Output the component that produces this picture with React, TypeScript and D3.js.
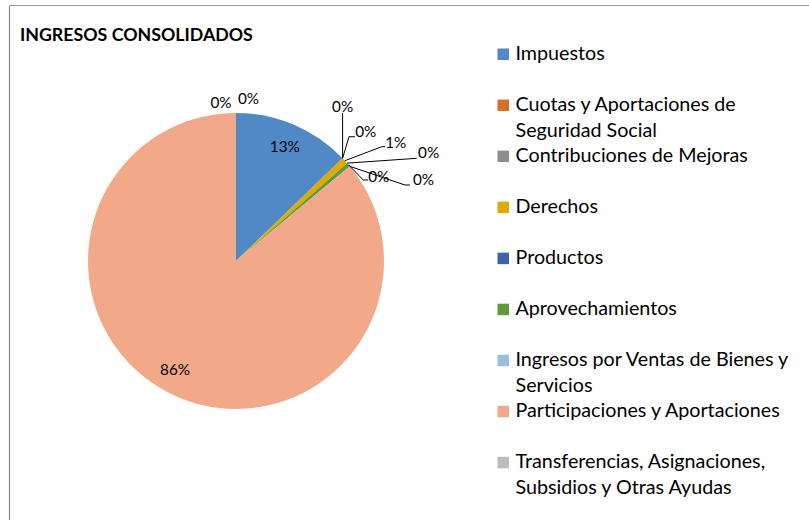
import React, { useMemo } from "react";
import * as d3 from "d3";

// ---------- data ----------
const chartTitle = "INGRESOS CONSOLIDADOS";

const categories = [
  "Impuestos",
  "Cuotas y Aportaciones de Seguridad Social",
  "Contribuciones de Mejoras",
  "Derechos",
  "Productos",
  "Aprovechamientos",
  "Ingresos por Ventas de Bienes y Servicios",
  "Participaciones y Aportaciones",
  "Transferencias, Asignaciones, Subsidios y Otras Ayudas",
  "Ingresos Derivados de Financiamientos",
];

// legend text as wrapped in the picture (the 10th entry does not fit in the chart area)
const legendLines = [
  ["Impuestos"],
  ["Cuotas y Aportaciones de", "Seguridad Social"],
  ["Contribuciones de Mejoras"],
  ["Derechos"],
  ["Productos"],
  ["Aprovechamientos"],
  ["Ingresos por Ventas de Bienes y", "Servicios"],
  ["Participaciones y Aportaciones"],
  ["Transferencias, Asignaciones,", "Subsidios y Otras Ayudas"],
];

// share of total income, percent
const shares = [12.8, 0, 0, 0.7, 0, 0.45, 0, 86.05, 0, 0];

const colors = [
  "#5089C6",
  "#D4702C",
  "#8E8E8E",
  "#E2A900",
  "#3D63AD",
  "#5F9B3C",
  "#9BBDE2",
  "#F1A98A",
  "#BDBDBD",
  "#F7D06A",
];

// ---------- layout ----------
const W = 809;
const H = 520;
const CX = 236;
const CY = 261;
const R = 148;
const FONT = "Lato, 'Open Sans', 'DejaVu Sans', sans-serif";

// label placement: "in" = inside at radius factor, "out" = leader line from slice edge
type LabelSpec =
  | { kind: "in"; rho: number; dx: number; dy: number }
  | {
      kind: "out";
      path: [number, number][]; // leader points relative to edge anchor (after the anchor)
      tx: number;
      ty: number;
      anchor: "start" | "middle";
    };

const labelSpecs: LabelSpec[] = [
  { kind: "in", rho: 0.843, dx: 0, dy: 0 },
  { kind: "out", path: [[0, -45.3]], tx: 0, ty: -46.6, anchor: "middle" },
  { kind: "out", path: [[6.4, -21.6], [12.4, -21.6]], tx: 12.6, ty: -21.2, anchor: "start" },
  { kind: "out", path: [[36.9, -14], [40.2, -14]], tx: 40.4, ty: -13, anchor: "start" },
  { kind: "out", path: [[69.7, -4.8]], tx: 71, ty: -5.1, anchor: "start" },
  { kind: "out", path: [[14.9, 15.3], [19.9, 15.3]], tx: 19.8, ty: 17, anchor: "start" },
  { kind: "out", path: [[55.2, 18.7], [60.2, 18.7]], tx: 63.2, ty: 18.7, anchor: "start" },
  { kind: "in", rho: 0.843, dx: -8, dy: -5 },
  { kind: "out", path: [], tx: -15, ty: -5, anchor: "middle" },
  { kind: "out", path: [], tx: 12.5, ty: -9, anchor: "middle" },
];

function measure(text: string, font: string): number {
  const ctx = document.createElement("canvas").getContext("2d");
  if (!ctx) return 100;
  ctx.font = font;
  return ctx.measureText(text).width;
}

export default function App() {
  const sizes = useMemo(() => {
    const legend = (100 * 266) / measure("Participaciones y Aportaciones", `100px ${FONT}`);
    const title = (100 * 233) / measure(chartTitle, `bold 100px ${FONT}`);
    const label = (100 * 30) / measure("13%", `100px ${FONT}`);
    return { legend, title, label };
  }, []);

  const arcs = d3
    .pie<number>()
    .sort(null)
    .value((d) => d)
    .startAngle(0)
    .endAngle(2 * Math.PI)(shares);

  const arcGen = d3.arc<d3.PieArcDatum<number>>().innerRadius(0).outerRadius(R);
  const fmt = d3.format(".0%");

  const legendY = d3
    .scaleLinear()
    .domain([0, 8])
    .range([60, 468.3]);

  return (
    <svg
      width={W}
      height={H}
      style={{ position: "absolute", left: 0, top: 0, background: "#fff" }}
      fontFamily={FONT}
    >
      <rect x={0} y={0} width={W} height={H} fill="#fff" />
      {/* chart area border (extends past the picture) */}
      <line x1={9.5} y1={5.5} x2={W} y2={5.5} stroke="#9a9a9a" strokeWidth={1.2} />
      <line x1={9.5} y1={5.5} x2={9.5} y2={H} stroke="#8a8a8a" strokeWidth={1.2} />

      <text x={20} y={41} fontWeight="bold" fontSize={sizes.title} fill="#000">
        {chartTitle}
      </text>

      <g transform={`translate(${CX},${CY})`}>
        {arcs.map((a, i) =>
          a.endAngle - a.startAngle > 0 ? (
            <path key={i} d={arcGen(a) || ""} fill={colors[i]} />
          ) : null
        )}
      </g>

      {arcs.map((a, i) => {
        const spec = labelSpecs[i];
        const mid = (a.startAngle + a.endAngle) / 2;
        const txt = fmt(shares[i] / 100);
        if (spec.kind === "in") {
          const x = CX + spec.rho * R * Math.sin(mid) + spec.dx;
          const y = CY - spec.rho * R * Math.cos(mid) + spec.dy;
          return (
            <text
              key={i}
              x={x}
              y={y}
              textAnchor="middle"
              dominantBaseline="central"
              fontSize={sizes.label}
              fill="#000"
            >
              {txt}
            </text>
          );
        }
        const ax = CX + R * Math.sin(mid);
        const ay = CY - R * Math.cos(mid);
        const pts: [number, number][] = [[ax, ay], ...spec.path.map(([dx, dy]) => [ax + dx, ay + dy] as [number, number])];
        return (
          <g key={i}>
            {spec.path.length > 0 && (
              <path
                d={d3.line()(pts) || ""}
                fill="none"
                stroke="#000"
                strokeWidth={1}
              />
            )}
            <text
              x={ax + spec.tx}
              y={ay + spec.ty}
              textAnchor={spec.anchor}
              fontSize={sizes.label}
              fill="#000"
            >
              {txt}
            </text>
          </g>
        );
      })}

      {legendLines.map((lines, i) => {
        const by = legendY(i);
        return (
          <g key={i}>
            <rect x={497.5} y={by - 11.5} width={11.5} height={11.5} fill={colors[i]} />
            {lines.map((ln, j) => (
              <text key={j} x={515.5} y={by + j * 25.6} fontSize={sizes.legend} fill="#000">
                {ln}
              </text>
            ))}
          </g>
        );
      })}
    </svg>
  );
}
